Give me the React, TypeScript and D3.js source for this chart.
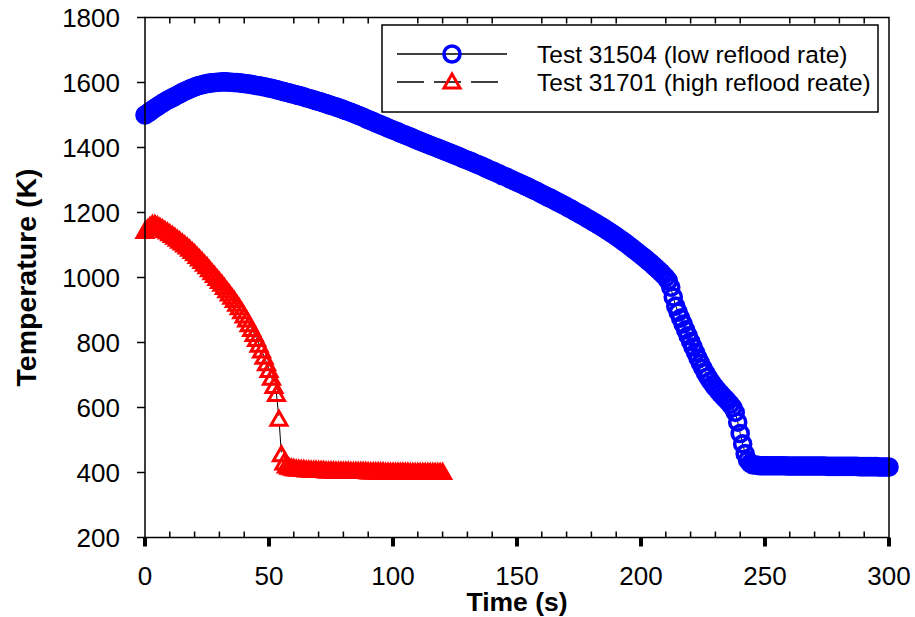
import * as d3 from 'd3';

// one reading per second, starting at t = 0 s
const lowRateTemp = [
  1500, 1505, 1510, 1516, 1521, 1526, 1531, 1536, 1541, 1545,
  1549, 1553, 1557, 1561, 1565, 1569, 1573, 1576, 1580, 1583,
  1586, 1589, 1591, 1593, 1595, 1597, 1598, 1599, 1600, 1601,
  1601, 1602, 1602, 1602, 1601, 1601, 1600, 1600, 1599, 1598,
  1597, 1596, 1595, 1594, 1592, 1591, 1590, 1588, 1587, 1585,
  1583, 1582, 1580, 1578, 1576, 1574, 1572, 1570, 1568, 1566,
  1564, 1562, 1560, 1558, 1556, 1553, 1551, 1549, 1547, 1544,
  1542, 1540, 1537, 1535, 1532, 1530, 1527, 1525, 1522, 1520,
  1517, 1514, 1511, 1508, 1505, 1502, 1499, 1496, 1493, 1489,
  1486, 1483, 1480, 1476, 1473, 1470, 1467, 1464, 1460, 1457,
  1454, 1451, 1448, 1444, 1441, 1438, 1435, 1432, 1429, 1425,
  1422, 1419, 1416, 1413, 1410, 1407, 1404, 1401, 1398, 1395,
  1392, 1389, 1386, 1383, 1380, 1377, 1374, 1371, 1367, 1364,
  1361, 1358, 1355, 1351, 1348, 1345, 1342, 1338, 1335, 1331,
  1328, 1325, 1321, 1318, 1314, 1311, 1308, 1304, 1301, 1297,
  1294, 1290, 1287, 1283, 1280, 1276, 1272, 1268, 1265, 1261,
  1257, 1253, 1249, 1246, 1242, 1238, 1234, 1230, 1226, 1222,
  1218, 1214, 1210, 1205, 1201, 1197, 1193, 1188, 1184, 1179,
  1175, 1170, 1166, 1161, 1157, 1152, 1147, 1142, 1137, 1132,
  1127, 1121, 1116, 1110, 1105, 1099, 1093, 1087, 1081, 1075,
  1069, 1063, 1057, 1050, 1044, 1037, 1030, 1023, 1016, 1008,
  1000, 990, 970, 940, 912, 893, 875, 857, 839, 821,
  803, 786, 769, 752, 736, 721, 707, 694, 682, 671,
  661, 652, 643, 635, 627, 619, 610, 600, 585, 555,
  520, 488, 458, 438, 428, 424, 423, 422, 421, 421,
  421, 421, 421, 421, 421, 421, 421, 421, 421, 420,
  420, 420, 420, 420, 420, 420, 420, 420, 420, 420,
  420, 420, 420, 420, 420, 419, 419, 419, 419, 419,
  419, 419, 419, 419, 419, 419, 419, 419, 418, 418,
  418, 418, 418, 418, 418, 418, 417, 417, 417, 417,
  417,
];

const highRateTemp = [
  1145, 1152, 1160, 1166, 1166, 1162, 1158, 1153, 1148, 1143,
  1138, 1132, 1127, 1121, 1115, 1109, 1103, 1097, 1090, 1083,
  1076, 1068, 1060, 1052, 1044, 1036, 1027, 1018, 1009, 1000,
  991, 982, 972, 962, 952, 942, 932, 921, 910, 898,
  885, 872, 858, 843, 828, 812, 795, 777, 758, 738,
  717, 693, 668, 643, 567, 458, 432, 423, 419, 417,
  415, 414, 413, 412, 412, 411, 411, 410, 410, 410,
  409, 409, 409, 408, 408, 408, 408, 407, 407, 407,
  407, 407, 407, 406, 406, 406, 406, 406, 406, 406,
  405, 405, 405, 405, 405, 405, 405, 404, 404, 404,
  404, 404, 404, 404, 404, 404, 404, 403, 403, 403,
  403, 403, 403, 403, 403, 403, 403, 403, 403, 403,
  403,
];

const legendLabels = ['Test 31504 (low reflood rate)', 'Test 31701 (high reflood reate)'];
const xTitle = 'Time (s)';
const yTitle = 'Temperature (K)';

const W = 915, H = 617;
const left = 145, right = 889, top = 17.5, bottom = 537.5;
const font = 'Arial, "Liberation Sans", sans-serif';
const blue = '#0000ff';
const red = '#ff0000';

const x = d3.scaleLinear().domain([0, 300]).range([left, right]);
const y = d3.scaleLinear().domain([200, 1800]).range([bottom, top]);

const tri = (w: number, h: number) => `M0,${-h / 2}L${w / 2},${h / 2}L${-w / 2},${h / 2}Z`;
const triPath = tri(16, 14);

export default function App() {
  const line = d3.line<number>().x((_, i) => x(i)).y((d) => y(d));
  const yTicks = y.ticks(8);
  const xTicks = x.ticks(6);
  const xMinor = x.ticks(30).filter((t) => t % 50 !== 0);

  return (
    <svg width={W} height={H} style={{ position: 'absolute', left: 0, top: 0, background: '#fff' }} fontFamily={font}>
      <rect width={W} height={H} fill="#fff" />

      {/* connecting lines */}
      <path d={line(lowRateTemp) ?? ''} fill="none" stroke="#000" strokeWidth={1} />
      <path d={line(highRateTemp) ?? ''} fill="none" stroke="#000" strokeWidth={1} strokeDasharray="27,10" />

      {/* markers */}
      <g fill="none" stroke={blue} strokeWidth={3.6}>
        {lowRateTemp.map((v, i) => (
          <circle key={i} cx={x(i)} cy={y(v)} r={8} />
        ))}
      </g>
      <g fill="none" stroke={red} strokeWidth={3}>
        {highRateTemp.map((v, i) => (
          <path key={i} d={triPath} transform={`translate(${x(i)},${y(v)})`} />
        ))}
      </g>

      {/* frame */}
      <rect x={left} y={top} width={right - left} height={bottom - top} fill="none" stroke="#000" strokeWidth={1.5} />

      {/* y axis */}
      {yTicks.map((t) => (
        <g key={t}>
          <line x1={left - 8} x2={left} y1={y(t)} y2={y(t)} stroke="#000" strokeWidth={1.5} />
          <text x={120} y={y(t) + 9} textAnchor="end" fontSize={26}>{t}</text>
        </g>
      ))}

      {/* x axis */}
      {xMinor.map((t) => (
        <g key={t}>
          <line x1={x(t)} x2={x(t)} y1={bottom} y2={bottom - 6} stroke="#000" strokeWidth={1.5} />
          <line x1={x(t)} x2={x(t)} y1={top} y2={top + 6} stroke="#000" strokeWidth={1.5} />
        </g>
      ))}
      {xTicks.map((t) => (
        <g key={t}>
          <line x1={x(t)} x2={x(t)} y1={bottom} y2={bottom + 9} stroke="#000" strokeWidth={4} />
          <text x={x(t)} y={585} textAnchor="middle" fontSize={26}>{t}</text>
        </g>
      ))}

      {/* titles */}
      <text x={(left + right) / 2} y={611} textAnchor="middle" fontSize={26.5} fontWeight="bold">{xTitle}</text>
      <text transform={`translate(36,${(top + bottom) / 2}) rotate(-90)`} textAnchor="middle" fontSize={28.5} fontWeight="bold">{yTitle}</text>

      {/* legend */}
      <rect x={382} y={25} width={496} height={87} fill="#fff" stroke="#000" strokeWidth={1.5} />
      <line x1={397} x2={507} y1={54} y2={54} stroke="#000" strokeWidth={1.3} />
      <circle cx={452} cy={54} r={8} fill="none" stroke={blue} strokeWidth={3.6} />
      <line x1={397} x2={498} y1={82} y2={82} stroke="#000" strokeWidth={1.3} strokeDasharray="27,10" />
      <path d={triPath} transform="translate(452,81)" fill="none" stroke={red} strokeWidth={3} />
      <text x={537} y={63} fontSize={24.5}>{legendLabels[0]}</text>
      <text x={537} y={91} fontSize={24.5}>{legendLabels[1]}</text>
    </svg>
  );
}
